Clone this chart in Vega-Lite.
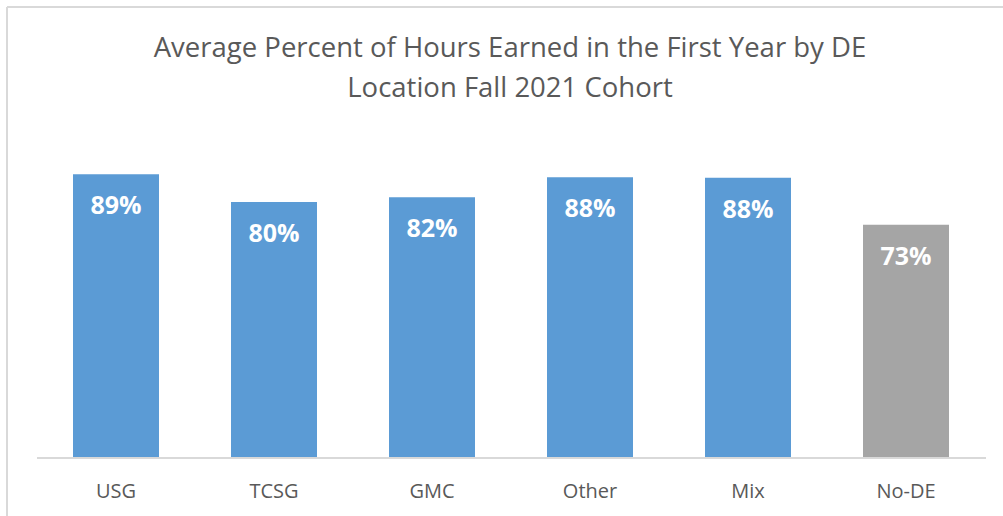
{
  "$schema": "https://vega.github.io/schema/vega-lite/v6.json",
  "autosize": "none",
  "width": 996,
  "height": 509,
  "padding": {"left": 7, "top": 7, "right": 0, "bottom": 0},
  "background": "#FFFFFF",
  "title": {
    "text": ["Average Percent of Hours Earned in the First Year by DE", "Location Fall 2021 Cohort"],
    "anchor": "middle",
    "orient": "top",
    "offset": -95,
    "dx": 5,
    "font": "Open Sans",
    "fontSize": 27.5,
    "fontWeight": "normal",
    "color": "#595959",
    "lineHeight": 40
  },
  "data": {
    "values": [
      {"loc": "USG", "pct": 0.887, "grp": "DE"},
      {"loc": "TCSG", "pct": 0.800, "grp": "DE"},
      {"loc": "GMC", "pct": 0.815, "grp": "DE"},
      {"loc": "Other", "pct": 0.877, "grp": "DE"},
      {"loc": "Mix", "pct": 0.876, "grp": "DE"},
      {"loc": "No-DE", "pct": 0.729, "grp": "No-DE"}
    ]
  },
  "encoding": {
    "x": {
      "field": "loc",
      "type": "nominal",
      "sort": null,
      "scale": {"paddingInner": 0.4557, "paddingOuter": 0.37975, "align": 0.55},
      "axis": {
        "title": null,
        "orient": "bottom",
        "offset": -58,
        "domain": false,
        "ticks": false,
        "tickSize": 0,
        "labelAngle": 0,
        "labelFont": "Open Sans",
        "labelFontSize": 20,
        "labelColor": "#595959",
        "labelBaseline": "alphabetic",
        "labelPadding": 39
      }
    }
  },
  "layer": [
    {
      "mark": {"type": "bar"},
      "encoding": {
        "y": {
          "field": "pct",
          "type": "quantitative",
          "scale": {"domain": [-0.18125, 1.409375], "nice": false, "zero": false},
          "axis": null
        },
        "y2": {"datum": 0},
        "color": {
          "field": "grp",
          "type": "nominal",
          "scale": {"domain": ["DE", "No-DE"], "range": ["#5B9BD5", "#A5A5A5"]},
          "legend": null
        }
      }
    },
    {
      "mark": {"type": "text", "dy": 40, "baseline": "alphabetic", "align": "center", "font": "Open Sans", "fontSize": 25, "fontWeight": "bold", "color": "#FFFFFF"},
      "encoding": {
        "y": {"field": "pct", "type": "quantitative"},
        "text": {"field": "pct", "type": "quantitative", "format": ".0%"}
      }
    },
    {
      "mark": {"type": "rule", "color": "#D9D9D9", "strokeWidth": 1.5},
      "encoding": {
        "x": {"datum": "USG", "bandPosition": -0.4186},
        "x2": {"datum": "No-DE", "bandPosition": 1.4302},
        "y": {"datum": 0}
      }
    }
  ],
  "config": {
    "view": {"stroke": "#D9D9D9", "strokeWidth": 2, "strokeDash": [996, 1505, 509, 0]}
  }
}
